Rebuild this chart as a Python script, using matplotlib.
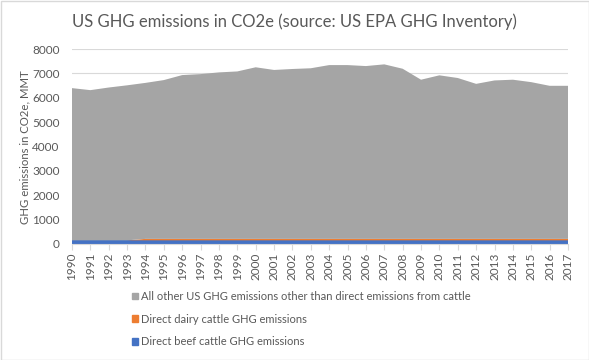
import matplotlib
matplotlib.use("Agg")
import matplotlib.pyplot as plt
from matplotlib.patches import Patch, Rectangle

# ---------------------------------------------------------------------
# Data (MMT CO2e)
# ---------------------------------------------------------------------
YEARS = list(range(1990, 2018))

BEEF = [150] * 28
DAIRY = [0, 0, 0, 0] + [60] * 24
OTHER = [6245, 6162, 6270, 6360, 6400, 6515, 6720, 6760, 6830, 6870,
         7040, 6930, 6970, 7000, 7130, 7130, 7090, 7160, 6980, 6530,
         6710, 6600, 6360, 6500, 6530, 6430, 6280, 6280]

LABELS = [
    "Direct beef cattle GHG emissions",
    "Direct dairy cattle GHG emissions",
    "All other US GHG emissions other than direct emissions from cattle",
]
COLORS = ["#4472C4", "#ED7D31", "#A5A5A5"]

TEXT = "#595959"
FONT = "Lato"

W, H = 589, 360


def px(x0, y0, x1, y1):
    """Pixel box (top-left origin) -> figure fraction rect."""
    return [x0 / W, 1 - y1 / H, (x1 - x0) / W, (y1 - y0) / H]


fig = plt.figure(figsize=(W / 100, H / 100), dpi=100)
fig.patches.append(Rectangle((0.5 / W, 0.5 / H), 1 - 1 / W, 1 - 1 / H,
                             transform=fig.transFigure, fill=False,
                             edgecolor="#D9D9D9", linewidth=1.0))

ax = fig.add_axes(px(72, 49, 568, 244))
ax.stackplot(YEARS, BEEF, DAIRY, OTHER, colors=COLORS, linewidth=0)
ax.set_xlim(1990, 2017)
ax.set_ylim(0, 8000)
ax.set_yticks(range(0, 8001, 1000))
ax.set_xticks(YEARS)
ax.set_xticklabels([str(y) for y in YEARS], rotation=90)
ax.grid(axis="y", color="#D9D9D9", linewidth=0.8)
ax.set_axisbelow(True)
for s in ["top", "right", "left"]:
    ax.spines[s].set_visible(False)
ax.spines["bottom"].set_color("#D9D9D9")
ax.tick_params(axis="y", length=0, labelsize=8.5, labelcolor=TEXT, pad=9)
ax.tick_params(axis="x", length=4, color="#D9D9D9", labelsize=8.5,
               labelcolor=TEXT, pad=2)
for lab in ax.get_xticklabels() + ax.get_yticklabels():
    lab.set_family(FONT)

fig.text(294 / W, 1 - 27 / H,
         "US GHG emissions in CO2e (source: US EPA GHG Inventory)",
         ha="center", va="baseline", fontsize=12, color=TEXT, family=FONT)
fig.text(25 / W, 1 - 147 / H, "GHG emissions in CO2e, MMT",
         rotation=90, ha="center", va="center", fontsize=8.2,
         color=TEXT, family=FONT)

handles = [Patch(color=COLORS[2]), Patch(color=COLORS[1]), Patch(color=COLORS[0])]
fig.legend(handles, [LABELS[2], LABELS[1], LABELS[0]],
           loc="upper left", bbox_to_anchor=(122 / W, 1 - 281 / H),
           frameon=False, handlelength=0.55, handleheight=0.55,
           handletextpad=0.3, labelspacing=1.05,
           prop={"family": FONT, "size": 8}, labelcolor=TEXT)

fig.savefig("out.png", dpi=100)
